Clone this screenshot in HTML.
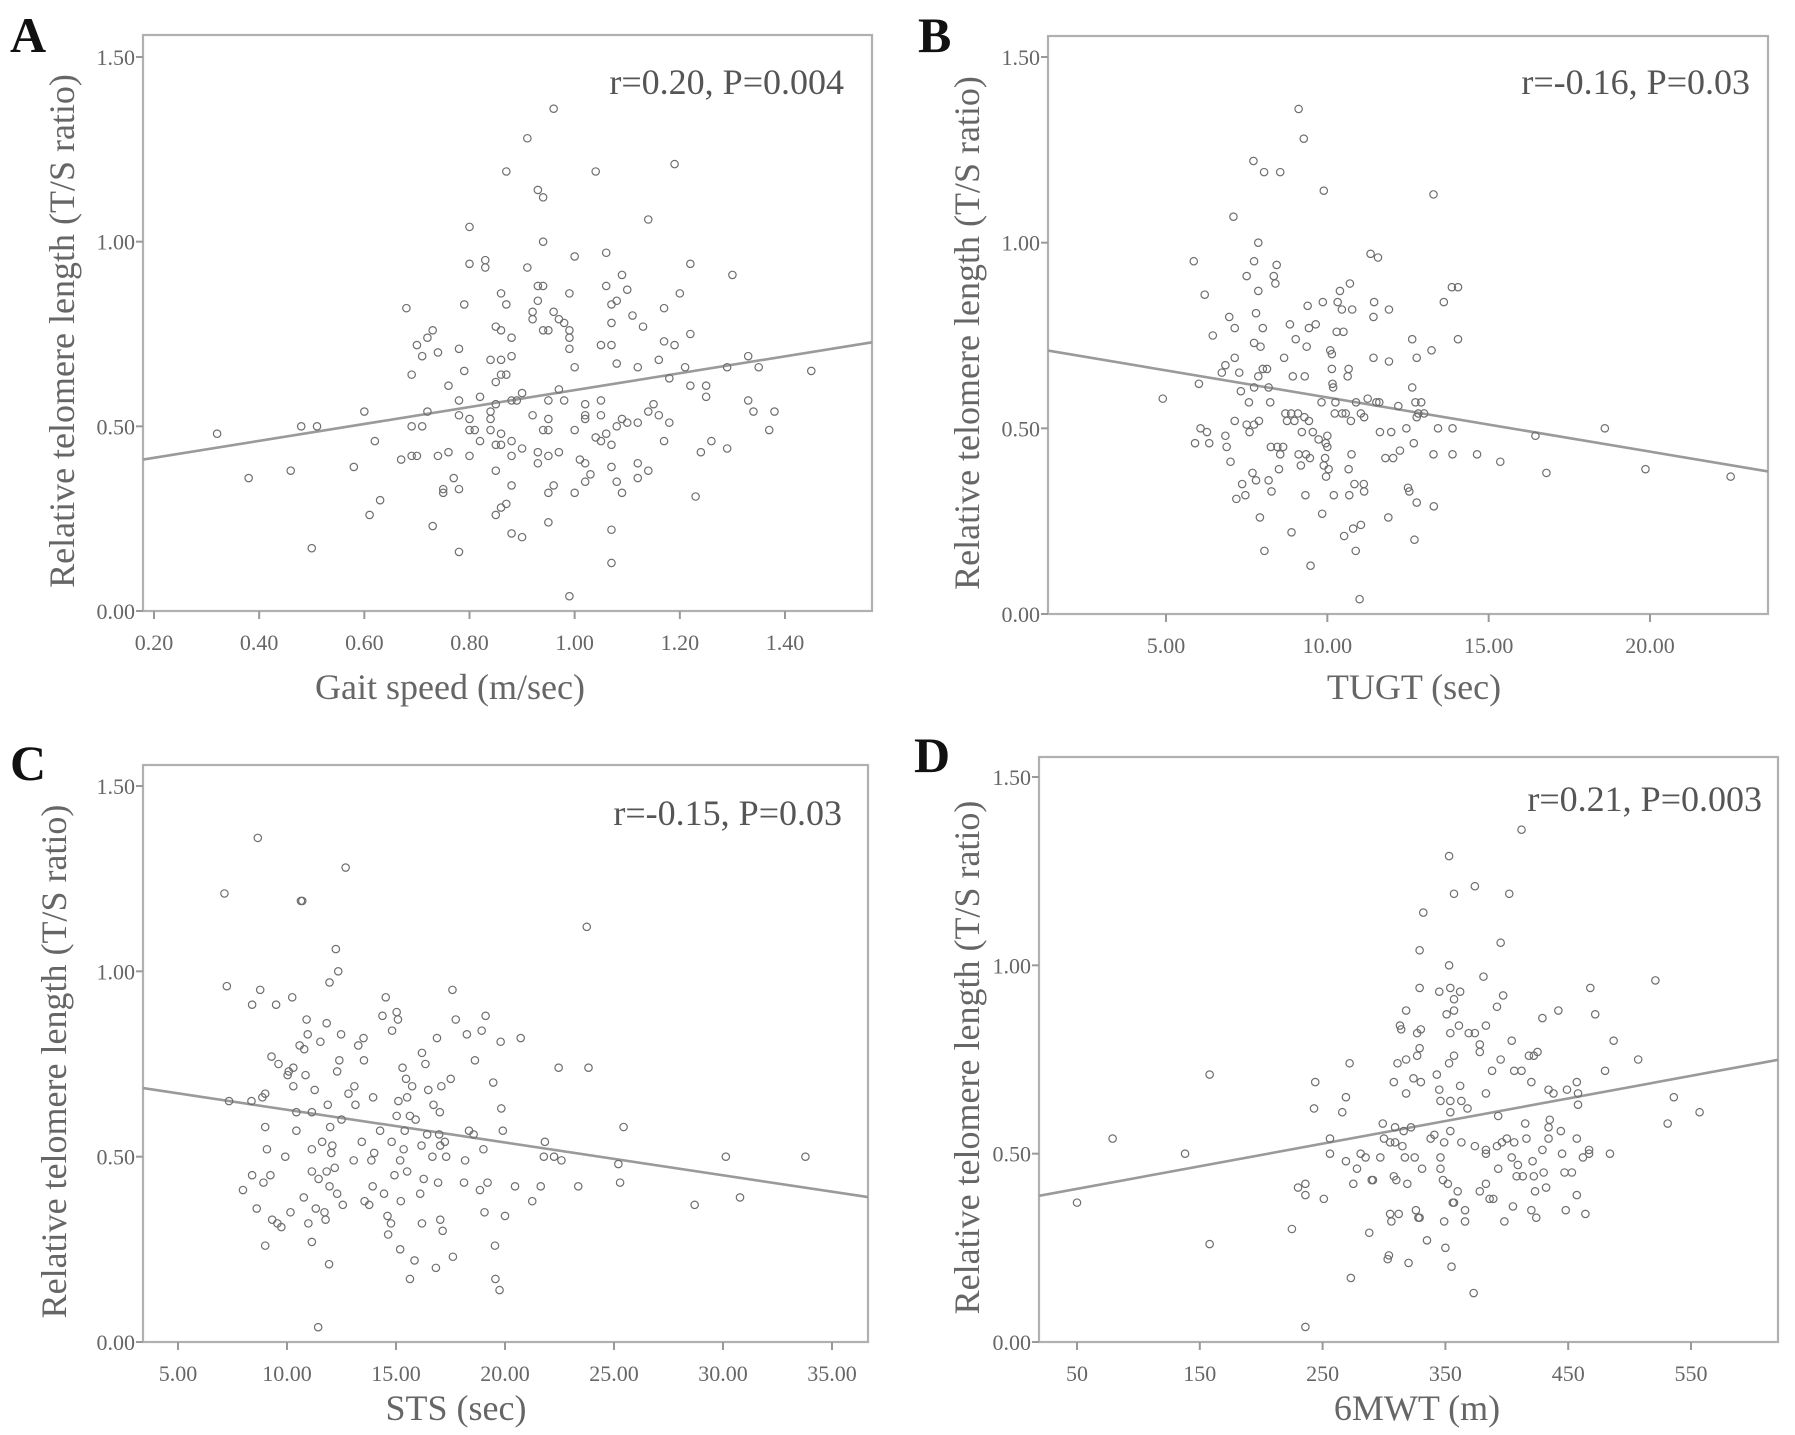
<!DOCTYPE html>
<html><head><meta charset="utf-8"><style>
html,body{margin:0;padding:0;background:#fff;}
svg{display:block;}
text{font-family:"Liberation Serif",serif;}
</style></head><body>
<svg id="fig" width="1795" height="1435" viewBox="0 0 1795 1435" xmlns="http://www.w3.org/2000/svg"></svg>
<script>
// ---- Panel A: Gait speed ----
const gaitX=[0.32,0.38,0.46,0.48,0.51,0.50,0.58,0.60,0.61,0.62,0.63,0.67,0.68,0.69,0.69,0.69,0.70,0.70,0.71,0.71,0.72,0.72,0.73,0.73,0.74,0.74,0.75,0.75,0.76,0.76,0.77,0.78,0.78,0.78,0.78,0.78,0.79,0.79,0.80,0.80,0.80,0.80,0.80,0.81,0.82,0.82,0.83,0.83,0.84,0.84,0.84,0.84,0.85,0.85,0.85,0.85,0.85,0.85,0.86,0.86,0.86,0.86,0.86,0.86,0.86,0.87,0.87,0.87,0.87,0.88,0.88,0.88,0.88,0.88,0.88,0.88,0.89,0.90,0.90,0.90,0.91,0.91,0.92,0.92,0.92,0.93,0.93,0.93,0.93,0.93,0.94,0.94,0.94,0.94,0.94,0.95,0.95,0.95,0.95,0.95,0.95,0.95,0.96,0.96,0.96,0.97,0.97,0.97,0.98,0.98,0.99,0.99,0.99,0.99,0.99,1.00,1.00,1.00,1.00,1.01,1.02,1.02,1.02,1.02,1.02,1.03,1.04,1.04,1.05,1.05,1.05,1.05,1.06,1.06,1.06,1.07,1.07,1.07,1.07,1.07,1.07,1.07,1.08,1.08,1.08,1.08,1.09,1.09,1.09,1.10,1.10,1.11,1.12,1.12,1.12,1.12,1.13,1.14,1.14,1.14,1.15,1.16,1.16,1.17,1.17,1.17,1.18,1.18,1.19,1.19,1.20,1.21,1.22,1.22,1.22,1.23,1.24,1.25,1.25,1.26,1.29,1.29,1.30,1.33,1.33,1.34,1.35,1.37,1.38,1.45];
const gaitY=[0.48,0.36,0.38,0.50,0.50,0.17,0.39,0.54,0.26,0.46,0.30,0.41,0.82,0.64,0.50,0.42,0.72,0.42,0.50,0.69,0.74,0.54,0.76,0.23,0.70,0.42,0.32,0.33,0.61,0.43,0.36,0.71,0.57,0.53,0.33,0.16,0.83,0.65,1.04,0.94,0.52,0.49,0.42,0.49,0.58,0.46,0.95,0.93,0.68,0.54,0.52,0.49,0.77,0.62,0.56,0.45,0.38,0.26,0.86,0.76,0.68,0.64,0.48,0.45,0.28,1.19,0.83,0.64,0.29,0.74,0.69,0.57,0.46,0.42,0.34,0.21,0.57,0.59,0.44,0.20,1.28,0.93,0.81,0.79,0.53,1.14,0.88,0.84,0.43,0.40,1.12,1.00,0.88,0.76,0.49,0.76,0.57,0.52,0.49,0.42,0.32,0.24,1.36,0.81,0.34,0.79,0.60,0.43,0.78,0.57,0.86,0.76,0.74,0.71,0.04,0.96,0.66,0.49,0.32,0.41,0.40,0.56,0.53,0.52,0.35,0.37,1.19,0.47,0.46,0.72,0.57,0.53,0.97,0.88,0.48,0.83,0.78,0.72,0.45,0.39,0.22,0.13,0.84,0.67,0.50,0.35,0.91,0.52,0.32,0.87,0.51,0.80,0.66,0.51,0.40,0.36,0.77,1.06,0.54,0.38,0.56,0.68,0.53,0.82,0.73,0.46,0.63,0.51,1.21,0.72,0.86,0.66,0.94,0.75,0.61,0.31,0.43,0.61,0.58,0.46,0.66,0.44,0.91,0.57,0.69,0.54,0.66,0.49,0.54,0.65];
const gaitXTicks=["0.20","0.40","0.60","0.80","1.00","1.20","1.40"];
const gaitFit=[0.369,0.229];
// ---- Panel B: TUGT ----
const tugtX=[4.9,5.86,5.9,6.02,6.07,6.2,6.27,6.34,6.45,6.73,6.84,6.84,6.88,6.96,7.0,7.09,7.13,7.13,7.13,7.18,7.27,7.32,7.36,7.46,7.5,7.5,7.57,7.59,7.68,7.71,7.73,7.73,7.73,7.73,7.79,7.79,7.86,7.86,7.86,7.88,7.91,7.93,8.0,8.0,8.04,8.05,8.13,8.18,8.18,8.23,8.25,8.27,8.34,8.39,8.43,8.45,8.5,8.54,8.54,8.63,8.66,8.7,8.75,8.84,8.88,8.89,8.93,8.98,9.02,9.09,9.11,9.11,9.18,9.21,9.27,9.29,9.3,9.32,9.34,9.36,9.39,9.43,9.43,9.46,9.48,9.55,9.64,9.73,9.82,9.84,9.86,9.89,9.89,9.93,9.95,9.96,10.0,10.0,10.04,10.09,10.14,10.14,10.16,10.18,10.2,10.23,10.25,10.29,10.32,10.39,10.45,10.46,10.5,10.52,10.57,10.63,10.66,10.66,10.68,10.7,10.73,10.75,10.77,10.8,10.84,10.88,10.89,11.0,11.04,11.04,11.13,11.14,11.14,11.25,11.34,11.43,11.43,11.45,11.52,11.57,11.61,11.63,11.8,11.89,11.91,11.91,11.98,12.04,12.2,12.25,12.45,12.5,12.54,12.63,12.63,12.68,12.7,12.73,12.77,12.77,12.77,12.82,12.91,13.0,13.23,13.29,13.29,13.3,13.43,13.61,13.86,13.88,13.88,14.05,14.05,14.64,15.36,16.45,16.79,18.6,19.86,22.5];
const tugtY=[0.58,0.95,0.46,0.62,0.50,0.86,0.49,0.46,0.75,0.65,0.67,0.48,0.45,0.80,0.41,1.07,0.77,0.69,0.52,0.31,0.65,0.60,0.35,0.32,0.91,0.51,0.57,0.49,0.38,1.22,0.95,0.73,0.61,0.51,0.36,0.81,1.00,0.87,0.64,0.52,0.26,0.72,0.77,0.66,1.19,0.17,0.66,0.61,0.36,0.57,0.45,0.33,0.91,0.89,0.94,0.45,0.39,1.19,0.43,0.45,0.69,0.54,0.52,0.78,0.54,0.22,0.64,0.52,0.74,0.54,0.43,1.36,0.40,0.49,1.28,0.53,0.64,0.32,0.43,0.72,0.83,0.52,0.77,0.42,0.13,0.49,0.78,0.47,0.57,0.27,0.84,1.14,0.40,0.42,0.46,0.37,0.45,0.48,0.39,0.71,0.66,0.70,0.62,0.61,0.32,0.54,0.57,0.76,0.84,0.87,0.82,0.54,0.76,0.21,0.54,0.64,0.66,0.39,0.32,0.89,0.52,0.43,0.82,0.23,0.35,0.17,0.57,0.04,0.24,0.54,0.35,0.33,0.53,0.58,0.97,0.80,0.69,0.84,0.57,0.96,0.57,0.49,0.42,0.26,0.82,0.68,0.49,0.42,0.56,0.44,0.50,0.34,0.33,0.74,0.61,0.46,0.20,0.57,0.69,0.53,0.30,0.54,0.57,0.54,0.71,1.13,0.43,0.29,0.50,0.84,0.88,0.50,0.43,0.74,0.88,0.43,0.41,0.48,0.38,0.50,0.39,0.37];
const tugtXTicks=["5.00","10.00","15.00","20.00"];
const tugtFit=[0.729,-0.01459];
// ---- Panel C: STS ----
const stsX=[7.13,7.24,7.34,7.98,8.37,8.4,8.4,8.61,8.66,8.77,8.87,8.92,9.0,9.0,9.0,9.08,9.24,9.29,9.32,9.5,9.56,9.61,9.74,9.92,10.03,10.08,10.16,10.24,10.29,10.29,10.43,10.43,10.58,10.64,10.7,10.79,10.77,10.85,10.9,10.95,10.98,11.14,11.14,11.14,11.14,11.27,11.32,11.43,11.45,11.53,11.61,11.72,11.77,11.82,11.82,11.87,11.93,11.95,11.95,11.98,12.03,12.08,12.19,12.24,12.3,12.3,12.35,12.4,12.48,12.5,12.56,12.69,12.82,13.06,13.09,13.14,13.27,13.43,13.51,13.53,13.56,13.77,13.87,13.93,13.95,14.0,14.27,14.38,14.45,14.53,14.61,14.64,14.77,14.8,14.82,14.93,15.03,15.03,15.09,15.11,15.19,15.22,15.19,15.3,15.35,15.4,15.46,15.51,15.51,15.64,15.64,15.74,15.85,15.9,16.11,16.17,16.19,16.19,16.27,16.35,16.43,16.48,16.67,16.72,16.83,16.88,16.93,16.98,17.01,17.03,17.03,17.08,17.14,17.24,17.3,17.51,17.61,17.59,17.74,18.12,18.17,18.25,18.35,18.56,18.62,18.85,18.93,19.01,19.06,19.11,19.2,19.46,19.54,19.56,19.75,19.8,19.83,19.9,20.0,20.46,20.72,21.25,21.64,21.78,21.83,22.25,22.46,22.59,23.36,23.75,23.83,25.2,25.28,25.44,28.7,30.13,30.78,33.78];
const stsY=[1.21,0.96,0.65,0.41,0.65,0.91,0.45,0.36,1.36,0.95,0.66,0.43,0.67,0.58,0.26,0.52,0.45,0.77,0.33,0.91,0.32,0.75,0.31,0.50,0.72,0.73,0.35,0.93,0.74,0.69,0.62,0.57,0.80,1.19,1.19,0.79,0.39,0.72,0.87,0.83,0.32,0.62,0.52,0.46,0.27,0.68,0.36,0.04,0.44,0.81,0.54,0.35,0.33,0.86,0.46,0.64,0.21,0.97,0.42,0.58,0.51,0.53,0.47,1.06,0.73,0.40,1.00,0.76,0.83,0.60,0.37,1.28,0.67,0.49,0.69,0.64,0.80,0.54,0.82,0.76,0.38,0.37,0.49,0.42,0.66,0.51,0.57,0.88,0.40,0.93,0.34,0.29,0.32,0.54,0.84,0.45,0.89,0.61,0.87,0.65,0.49,0.38,0.25,0.74,0.52,0.57,0.71,0.46,0.66,0.61,0.17,0.69,0.22,0.60,0.40,0.53,0.78,0.32,0.44,0.75,0.56,0.68,0.50,0.64,0.20,0.82,0.43,0.56,0.62,0.53,0.33,0.69,0.30,0.54,0.50,0.71,0.23,0.95,0.87,0.43,0.49,0.83,0.57,0.56,0.76,0.41,0.84,0.52,0.35,0.88,0.43,0.70,0.26,0.17,0.14,0.81,0.63,0.57,0.34,0.42,0.82,0.38,0.42,0.50,0.54,0.50,0.74,0.49,0.42,1.12,0.74,0.48,0.43,0.58,0.37,0.50,0.39,0.50];
const stsXTicks=["5.00","10.00","15.00","20.00","25.00","30.00","35.00"];
const stsFit=[0.715,-0.00884];
// ---- Panel D: 6MWT ----
const mwtX=[50,79,138,158,158,225,230,236,236,236,244,243,251,256,256,266,269,269,272,273,275,278,281,285,288,290,291,297,299,300,303,304,305,305,306,308,308,309,309,310,311,312,313,314,315,316,317,318,318,318,319,320,322,324,325,326,327,327,328,329,329,329,329,330,331,330,332,335,338,341,343,345,345,346,346,346,348,349,349,350,351,352,353,353,354,353,354,354,354,354,355,356,357,357,357,357,357,360,361,362,362,363,363,366,366,368,369,374,374,373,374,378,378,378,381,383,383,383,383,383,386,388,389,392,392,393,393,395,395,396,397,398,400,402,404,404,405,406,406,408,409,412,412,413,415,416,418,420,420,421,422,422,423,424,425,429,429,430,432,434,434,435,434,438,442,444,445,447,448,449,453,457,457,457,458,458,462,464,467,468,467,472,480,484,487,507,521,531,536,557];
const mwtY=[0.37,0.54,0.50,0.71,0.26,0.30,0.41,0.04,0.42,0.39,0.69,0.62,0.38,0.54,0.50,0.61,0.65,0.48,0.74,0.17,0.42,0.46,0.50,0.49,0.29,0.43,0.43,0.49,0.58,0.54,0.22,0.23,0.34,0.53,0.32,0.44,0.69,0.53,0.57,0.43,0.74,0.34,0.84,0.83,0.52,0.56,0.49,0.66,0.88,0.75,0.42,0.21,0.57,0.70,0.49,0.35,0.82,0.76,0.33,0.33,1.04,0.78,0.94,0.69,0.46,0.83,1.14,0.27,0.54,0.55,0.71,0.93,0.67,0.64,0.46,0.49,0.43,0.32,0.53,0.25,0.87,0.42,1.29,1.00,0.94,0.74,0.56,0.61,0.64,0.82,0.20,0.37,0.88,0.37,1.19,0.76,0.91,0.40,0.84,0.68,0.93,0.64,0.53,0.35,0.32,0.62,0.82,1.21,0.82,0.13,0.52,0.40,0.77,0.79,0.97,0.84,0.66,0.51,0.42,0.50,0.38,0.72,0.38,0.89,0.52,0.46,0.60,1.06,0.75,0.53,0.92,0.32,0.54,1.19,0.80,0.49,0.36,0.72,0.53,0.44,0.47,0.72,1.36,0.44,0.58,0.54,0.76,0.35,0.69,0.48,0.76,0.44,0.40,0.33,0.77,0.86,0.51,0.45,0.41,0.57,0.54,0.59,0.67,0.66,0.88,0.56,0.50,0.45,0.35,0.67,0.45,0.69,0.39,0.54,0.63,0.66,0.49,0.34,0.50,0.94,0.51,0.87,0.72,0.50,0.80,0.75,0.96,0.58,0.65,0.61];
const mwtXTicks=["50","150","250","350","450","550"];
const mwtFit=[0.3766,0.0006];
const yTicks=["0.00","0.50","1.00","1.50"];

const NS="http://www.w3.org/2000/svg";
const svg=document.getElementById('fig');
function mk(tag,attrs,parent){const e=document.createElementNS(NS,tag);for(const k in attrs)e.setAttribute(k,attrs[k]);(parent||svg).appendChild(e);return e;}

function panel(cfg){
  const g=mk('g',{});
  
  
  const sx=v=>cfg.x0+(v-cfg.v0)*(cfg.x1-cfg.x0)/(cfg.v1-cfg.v0);
  const sy=v=>cfg.yz+(cfg.y15-cfg.yz)*v/1.5;
  const box=mk('rect',{x:cfg.L,y:cfg.T,width:cfg.R-cfg.L,height:cfg.B-cfg.T,fill:'none',stroke:'#b0b0b0','stroke-width':2.2},g);
  
  
  yTicks.forEach(t=>{const y=sy(parseFloat(t));
    mk('line',{x1:cfg.L-7,x2:cfg.L,y1:y,y2:y,stroke:'#999','stroke-width':2},g);
    const tx=mk('text',{x:cfg.L-8,y:y+8,'text-anchor':'end','font-size':22,fill:'#666'},g);tx.textContent=t;
    
    
  });
  cfg.ticks.forEach(t=>{const x=sx(parseFloat(t));
    mk('line',{x1:x,x2:x,y1:cfg.B,y2:cfg.B+8,stroke:'#999','stroke-width':2},g);
    const tx=mk('text',{x:x,y:cfg.B+39,'text-anchor':'middle','font-size':22,fill:'#666'},g);tx.textContent=t;
    
    
  });
  const vL=cfg.v0+(cfg.L-cfg.x0)*(cfg.v1-cfg.v0)/(cfg.x1-cfg.x0);
  const vR=cfg.v0+(cfg.R-cfg.x0)*(cfg.v1-cfg.v0)/(cfg.x1-cfg.x0);
  const fl=mk('line',{x1:cfg.L,y1:sy(cfg.fit[0]+cfg.fit[1]*vL),x2:cfg.R,y2:sy(cfg.fit[0]+cfg.fit[1]*vR),stroke:'#9a9a9a','stroke-width':2.6},g);
  
  
  cfg.xs.forEach((v,i)=>{
    const c=mk('circle',{cx:sx(v),cy:sy(cfg.ys[i]),r:3.7,fill:'none',stroke:'#6e6e6e','stroke-width':1.2},g);
    
    
  });
  const yl=mk('text',{transform:`translate(${cfg.ylx},${(cfg.T+cfg.B)/2+8}) rotate(-90)`,'text-anchor':'middle','font-size':36,fill:'#666'},g);
  yl.textContent='Relative telomere length (T/S ratio)';
  
  
  const xl=mk('text',{x:cfg.xtx,y:cfg.B+cfg.xty,'text-anchor':'middle','font-size':36,fill:'#666'},g);
  xl.textContent=cfg.xt;
  
  
  const an=mk('text',{x:cfg.anx,y:cfg.any,'text-anchor':'end','font-size':36,fill:'#555'},g);
  an.textContent=cfg.an;
  
  
  const lt=mk('text',{x:cfg.lx,y:cfg.ly,'font-size':50,'font-weight':'bold',fill:'#111'},g);
  lt.textContent=cfg.id;
  
  
}
panel({id:'A',L:143,R:872,T:35,B:611,yz:611,y15:57,x0:154,x1:785,v0:0.2,v1:1.4,ticks:gaitXTicks,xs:gaitX,ys:gaitY,fit:gaitFit,ylx:74,xt:'Gait speed (m/sec)',xtx:450,xty:88,an:'r=0.20, P=0.004',anx:844,any:94,lx:10,ly:52});
panel({id:'B',L:1048,R:1768,T:36,B:614,yz:614,y15:57,x0:1166,x1:1650,v0:5,v1:20,ticks:tugtXTicks,xs:tugtX,ys:tugtY,fit:tugtFit,ylx:979,xt:'TUGT (sec)',xtx:1414,xty:85,an:'r=-0.16, P=0.03',anx:1750,any:94,lx:918,ly:52});
panel({id:'C',L:143,R:868,T:765,B:1342,yz:1342,y15:786,x0:178,x1:832,v0:5,v1:35,ticks:stsXTicks,xs:stsX,ys:stsY,fit:stsFit,ylx:66,xt:'STS (sec)',xtx:456,xty:78,an:'r=-0.15, P=0.03',anx:842,any:825,lx:10,ly:780});
panel({id:'D',L:1039,R:1778,T:757,B:1342,yz:1342,y15:777,x0:1077,x1:1691,v0:50,v1:550,ticks:mwtXTicks,xs:mwtX,ys:mwtY,fit:mwtFit,ylx:979,xt:'6MWT (m)',xtx:1417,xty:78,an:'r=0.21, P=0.003',anx:1762,any:811,lx:914,ly:772});
</script>
</body></html>
